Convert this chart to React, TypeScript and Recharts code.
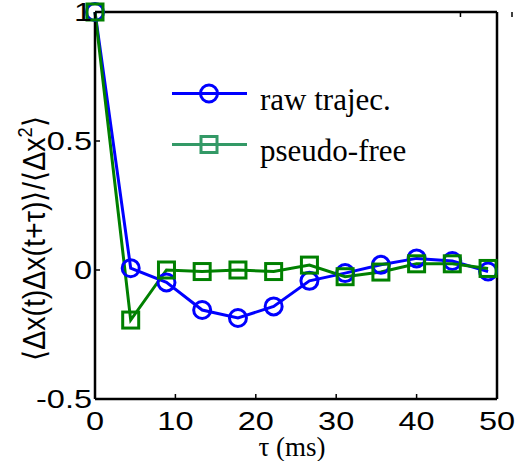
import React from "react";
import { LineChart, Line, XAxis, YAxis, Legend } from "recharts";

// tau in ms (sampling step ~4.44 ms)
const tau = [0, 4.44, 8.89, 13.33, 17.78, 22.22, 26.67, 31.11, 35.56, 40.0, 44.44, 48.89];
const rawTrajec = [1, 0.007, -0.048, -0.155, -0.186, -0.141, -0.042, -0.012, 0.02, 0.045, 0.035, -0.006];
const pseudoFree = [1, -0.194, 0.0, -0.006, 0.0, -0.006, 0.019, -0.026, -0.008, 0.024, 0.024, 0.006];

const seriesNames = ["raw trajec.", "pseudo-free"];
const xTicks = [0, 10, 20, 30, 40, 50];
const yTicks = [-0.5, 0, 0.5, 1];

const BLUE = "#0000ff";
const GREEN = "#008000";
const LEGEND_GREEN = "#339966";
const SANS = "'Liberation Sans', Arial, sans-serif";
const SERIF = "'Liberation Serif', 'Times New Roman', serif";

const data = tau.map((t, i) => ({ tau: t, raw: rawTrajec[i], pseudo: pseudoFree[i] }));

const axisLine = { stroke: "#000", strokeWidth: 2.5 };

// ticks point inwards, labels outside
const BottomTick = (props: any) => {
  const { x, y, payload } = props;
  return (
    <g>
      <line x1={x} x2={x} y1={y} y2={y - 5} stroke="#000" strokeWidth={1.5} />
      <text
        transform={`translate(${x},${y + 31}) scale(1.3,1)`}
        textAnchor="middle"
        fontFamily={SANS}
        fontSize={25}
        fill="#000"
      >
        {payload.value}
      </text>
    </g>
  );
};

const LeftTick = (props: any) => {
  const { x, y, payload } = props;
  return (
    <g>
      <line x1={x} x2={x + 5} y1={y} y2={y} stroke="#000" strokeWidth={1.5} />
      <text
        transform={`translate(${x - 3},${y + 9}) scale(1.3,1)`}
        textAnchor="end"
        fontFamily={SANS}
        fontSize={25}
        fill="#000"
      >
        {payload.value}
      </text>
    </g>
  );
};

const TopTick = (props: any) => {
  const { x } = props;
  return <line x1={x} x2={x} y1={12} y2={17} stroke="#000" strokeWidth={1.5} />;
};

const RightTick = (props: any) => {
  const { y } = props;
  return <line x1={497} x2={492} y1={y} y2={y} stroke="#000" strokeWidth={1.5} />;
};

const XLabel = (props: any) => {
  const vb = props.viewBox || { x: 95, y: 399, width: 402 };
  return (
    <text x={vb.x + vb.width / 2 - 4} y={vb.y + 57} textAnchor="middle" fontFamily={SERIF} fontSize={27} fill="#000">
      τ (ms)
    </text>
  );
};

const YLabel = (props: any) => {
  const vb = props.viewBox || { x: 0, y: 12, height: 387 };
  const cy = vb.y + vb.height / 2 + 33;
  return (
    <text
      transform={`translate(45,${cy}) rotate(-90) scale(0.92,1)`}
      textAnchor="middle"
      fontFamily={SANS}
      fontSize={31}
      fill="#000"
    >
      <tspan>⟨Δx(t)Δx(t+τ)⟩/⟨Δx</tspan>
      <tspan fontSize={20} dy={-13}>2</tspan>
      <tspan dy={13}>⟩</tspan>
    </text>
  );
};

const SquareDot = (props: any) => {
  const { cx, cy, index, stroke } = props;
  if (cx == null || cy == null) return <g key={`sq-${index}`} />;
  return (
    <rect
      key={`sq-${index}`}
      x={cx - 8}
      y={cy - 8}
      width={16}
      height={16}
      fill="none"
      stroke={stroke || GREEN}
      strokeWidth={3}
    />
  );
};

const markerColors = [BLUE, LEGEND_GREEN];

const LegendBox = () => (
  <div style={{ fontFamily: SERIF, fontSize: 31, color: "#000" }}>
    {seriesNames.map((name, i) => (
      <div key={name} style={{ display: "flex", height: 51, alignItems: "center" }}>
        <svg width={100} height={51} style={{ flexShrink: 0 }}>
          <line x1={12} x2={87} y1={25.5} y2={25.5} stroke={markerColors[i]} strokeWidth={3} />
          {i === 0 ? (
            <circle cx={49} cy={25.5} r={8.5} fill="none" stroke={BLUE} strokeWidth={3} />
          ) : (
            <rect x={41} y={17.5} width={16} height={16} fill="none" stroke={LEGEND_GREEN} strokeWidth={3} />
          )}
        </svg>
        <span style={{ whiteSpace: "nowrap", position: "relative", top: 6 }}>{name}</span>
      </div>
    ))}
  </div>
);

export default function App() {
  return (
    <div style={{ position: "absolute", left: 0, top: 0, width: 520, height: 461, background: "#fff" }}>
      <LineChart width={520} height={461} data={data} margin={{ top: 11, right: 22, bottom: 0, left: 0 }}>
        <XAxis
          dataKey="tau"
          type="number"
          domain={[0, 50]}
          ticks={xTicks}
          height={62}
          axisLine={axisLine}
          tickLine={false}
          tickSize={0}
          tickMargin={0}
          tick={<BottomTick />}
          label={<XLabel />}
        />
        <XAxis
          xAxisId="top"
          orientation="top"
          type="number"
          domain={[0, 50]}
          ticks={xTicks}
          height={1}
          axisLine={axisLine}
          tickLine={false}
          tickSize={0}
          tickMargin={0}
          tick={<TopTick />}
        />
        <YAxis
          type="number"
          domain={[-0.5, 1]}
          ticks={yTicks}
          width={95}
          axisLine={axisLine}
          tickLine={false}
          tickSize={0}
          tickMargin={0}
          tick={<LeftTick />}
          label={<YLabel />}
        />
        <YAxis
          yAxisId="right"
          orientation="right"
          type="number"
          domain={[-0.5, 1]}
          ticks={yTicks}
          width={1}
          axisLine={axisLine}
          tickLine={false}
          tickSize={0}
          tickMargin={0}
          tick={<RightTick />}
        />
        <Legend
          layout="horizontal"
          verticalAlign="middle"
          align="center"
          content={<LegendBox />}
          wrapperStyle={{ left: 160, top: 68, width: 280, height: 102 }}
        />
        <Line
          name={seriesNames[0]}
          dataKey="raw"
          type="linear"
          stroke={BLUE}
          strokeWidth={3}
          dot={{ r: 8.5, stroke: BLUE, strokeWidth: 3, fill: "none" }}
          isAnimationActive={false}
        />
        <Line
          name={seriesNames[1]}
          dataKey="pseudo"
          type="linear"
          stroke={GREEN}
          strokeWidth={3}
          dot={SquareDot}
          isAnimationActive={false}
        />
      </LineChart>
    </div>
  );
}
